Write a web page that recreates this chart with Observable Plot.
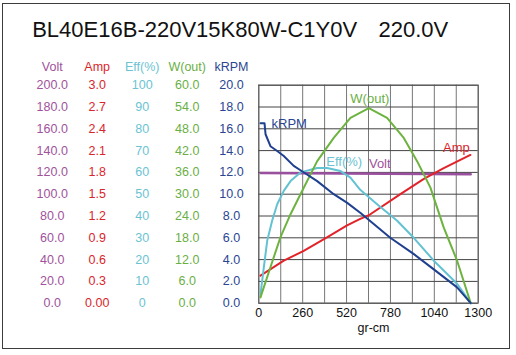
<!DOCTYPE html>
<html>
<head>
<meta charset="utf-8">
<script src="https://cdn.jsdelivr.net/npm/d3@7"></script>
<script src="https://cdn.jsdelivr.net/npm/@observablehq/plot@0.6"></script>
<style>
  html, body { margin: 0; padding: 0; background: #fff; }
  #wrap { position: relative; width: 516px; height: 355px; }
  #border { position: absolute; left: 2px; top: 3px; width: 506px; height: 344px; border: 1.6px solid #3c3c3c; pointer-events: none; }
</style>
</head>
<body>
<div id="wrap"><div id="border"></div></div>
<script>
// ---- data ----
const titleModel = "BL40E16B-220V15K80W-C1Y0V";
const titleVolt = "220.0V";
const xTicks = [0, 260, 520, 780, 1040, 1300];
const xLabel = "gr-cm";

const voltTicks = ["0.0","20.0","40.0","60.0","80.0","100.0","120.0","140.0","160.0","180.0","200.0"];
const ampTicks  = ["0.00","0.3","0.6","0.9","1.2","1.5","1.8","2.1","2.4","2.7","3.0"];
const effTicks  = ["0","10","20","30","40","50","60","70","80","90","100"];
const woutTicks = ["0.0","6.0","12.0","18.0","24.0","30.0","36.0","42.0","48.0","54.0","60.0"];
const krpmTicks = ["0.0","2.0","4.0","6.0","8.0","10.0","12.0","14.0","16.0","18.0","20.0"];

// series (torque gr-cm, value in own unit)
const voltT = [10, 1256];
const voltV = [119.5, 118.3];
const ampT = [10, 148, 266, 404, 523, 601, 652, 839, 978, 1096, 1254];
const ampV = [0.38, 0.585, 0.72, 0.905, 1.07, 1.16, 1.21, 1.5, 1.71, 1.86, 2.04];
const effT = [10, 30, 50, 79, 109, 148, 188, 247, 346, 405, 484, 543, 601, 701, 820, 918, 1037, 1175, 1256];
const effV = [4, 16.5, 28.7, 37.8, 45.4, 51.5, 56, 60, 62, 62, 60.6, 57.6, 52, 45.4, 37.8, 30, 19.5, 8.9, 0];
const woutT = [10, 69, 128, 188, 247, 346, 444, 543, 652, 760, 859, 938, 1017, 1096, 1175, 1256];
const woutV = [1.6, 9.9, 18.1, 24.5, 30, 39.1, 45.5, 51, 53.7, 51, 45.5, 39.1, 31.8, 20.8, 11.7, 0];
const krpmT = [10, 34, 37, 40, 69, 109, 148, 207, 247, 346, 444, 524, 601, 779, 919, 1037, 1175, 1256];
const krpmV = [16.5, 16.5, 16.0, 15.5, 14.4, 13.96, 13.5, 12.6, 12.2, 11.2, 10.0, 9.2, 8.3, 6.0, 4.5, 3.1, 1.45, 0];

// full-scale of each unit mapped to the shared 0–20 grid
const series = [
  {name: "Volt",   T: voltT, V: voltV, full: 200, line: "#9b4f9f", text: "#a0529c", tick: voltTicks},
  {name: "Amp",    T: ampT,  V: ampV,  full: 3,   line: "#e3232a", text: "#d9262c", tick: ampTicks},
  {name: "Eff(%)", T: effT,  V: effV,  full: 100, line: "#63c2d2", text: "#6cc3d2", tick: effTicks},
  {name: "W(out)", T: woutT, V: woutV, full: 60,  line: "#6cb33f", text: "#6aaf45", tick: woutTicks},
  {name: "kRPM",   T: krpmT, V: krpmV, full: 20,  line: "#1f3f8f", text: "#2b4591", tick: krpmTicks}
];
const pts = s => s.T.map((t, i) => ({t, v: s.V[i] / s.full * 20}));

const colDx = [-206.6, -161.6, -116.6, -71.6, -27.3];

const marks = [
  Plot.gridX({ticks: d3.range(0, 1301, 130), stroke: "#777", strokeOpacity: 1, strokeWidth: 1}),
  Plot.gridY({ticks: d3.range(0, 21, 2), stroke: "#444", strokeOpacity: 1, strokeWidth: 1}),
  Plot.frame({stroke: "#555"})
];

// left value columns + headers
series.forEach((s, k) => {
  marks.push(Plot.text(s.tick, {y: (d, i) => i * 2, text: d => d, frameAnchor: "left", dx: colDx[k], textAnchor: "middle", fill: s.text, fontSize: 12.5}));
  marks.push(Plot.text([s.name], {text: d => d, frameAnchor: "top-left", dx: colDx[k], dy: -23, textAnchor: "middle", fill: s.text, fontSize: 12.5}));
});

// curves
series.forEach(s => {
  marks.push(Plot.line(pts(s), {x: "t", y: "v", stroke: s.line, strokeWidth: s.name === "Volt" ? 2.4 : 2, curve: "linear"}));
});

// curve labels anchored on data points
const V = pts(series[0]), A = pts(series[1]), E = pts(series[2]), W = pts(series[3]), K = pts(series[4]);
marks.push(Plot.text([K[0]], {x: "t", y: "v", text: () => "kRPM", textAnchor: "start", dx: 11, dy: 0, fill: series[4].text, fontSize: 13}));
marks.push(Plot.text([W[8]], {x: "t", y: "v", text: () => "W(out)", textAnchor: "middle", dx: 1, dy: -9, fill: series[3].text, fontSize: 13}));
marks.push(Plot.text([E[8]], {x: "t", y: "v", text: () => "Eff(%)", textAnchor: "middle", dx: 27, dy: -6, fill: series[2].text, fontSize: 13}));
marks.push(Plot.text([V[1]], {x: "t", y: "v", text: () => "Volt", textAnchor: "middle", dx: -91, dy: -10, fill: series[0].text, fontSize: 13}));
marks.push(Plot.text([A[A.length - 1]], {x: "t", y: "v", text: () => "Amp", textAnchor: "middle", dx: -14, dy: -7, fill: series[1].text, fontSize: 13}));

// x ticks and label
marks.push(Plot.text(xTicks, {x: d => d, text: d => String(d), frameAnchor: "bottom", dy: 14, fill: "#111", fontSize: 12.5}));
marks.push(Plot.text([xLabel], {text: d => d, frameAnchor: "bottom", dx: 5, dy: 29, fill: "#111", fontSize: 12.5}));

// title
marks.push(Plot.text([titleModel], {text: d => d, frameAnchor: "top-left", dx: -226.6, dy: -48, textAnchor: "start", lineAnchor: "bottom", fill: "#111", fontSize: 22}));
marks.push(Plot.text([titleVolt], {text: d => d, frameAnchor: "top-left", dx: 119.7, dy: -48, textAnchor: "start", lineAnchor: "bottom", fill: "#111", fontSize: 22}));

const chart = Plot.plot({
  width: 516,
  height: 355,
  marginLeft: 258.3,
  marginRight: 38.3,
  marginTop: 84.7,
  marginBottom: 52.3,
  x: {domain: [0, 1300], axis: null},
  y: {domain: [0, 20], axis: null},
  style: {fontFamily: "'Liberation Sans', Arial, sans-serif", background: "#fff", overflow: "visible"},
  marks
});
document.getElementById("wrap").prepend(chart);
</script>
</body>
</html>
